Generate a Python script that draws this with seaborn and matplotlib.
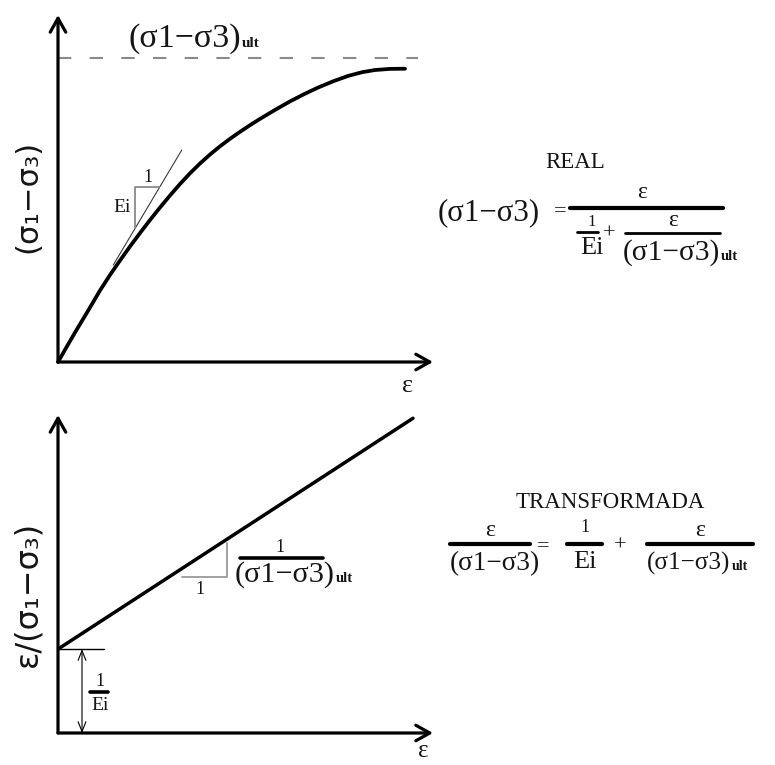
import matplotlib
matplotlib.use("Agg")
import matplotlib.pyplot as plt
from matplotlib.lines import Line2D
import seaborn as sns
import pandas as pd

W, H = 775, 765

# Real (hyperbolic) stress-strain curve: axial strain in %, deviator stress in kPa
eps_real = [0, 0.32, 0.68, 1.16, 1.68, 2.08, 2.48, 2.88, 3.28, 3.68, 4.08,
            4.48, 4.88, 5.28, 5.68, 6.08, 6.48, 6.88, 7.28, 7.68, 8.08,
            8.68, 9.28, 9.84, 10.40, 11.00, 11.60, 12.16, 12.68, 13.28, 13.88]
dev_stress = [0, 18.4, 38.8, 65.1, 94.1, 114.5, 133.6, 152.0, 169.7, 186.8, 203.3,
              219.1, 234.2, 248.3, 261.2, 273.0, 283.8, 293.7, 302.9, 311.6, 319.9,
              331.7, 342.9, 352.4, 361.1, 369.3, 376.4, 381.3, 384.2, 385.7, 385.9]
sigma_ult = 400
ult_line_eps = [0, 14.4]

# Initial tangent modulus line and its slope triangle
tangent_eps = [2.21, 4.95]
tangent_q = [127.6, 278.9]
tri_top_eps = [3.08, 3.08, 4.05]
tri_top_q = [176, 230, 230]

# Transformed (linearised) plot: eps/(s1-s3) in 1e-3 %/kPa
eps_lin = [0, 14.2]
ratio_lin = [12.9, 48.4]
inv_Ei = 12.9
tick_eps = [0, 1.84]
arrow_eps = 0.96
tri_bot_eps = [4.96, 6.76, 6.76]
tri_bot_ratio = [24.0, 24.0, 29.2]

TOP_LIM = (15, 456.6)
BOT_LIM = (15, 48.9)

sns.set_theme(style="white")
plt.rcParams["font.family"] = ["Liberation Serif", "DejaVu Serif"]
SERIF = ["Liberation Serif", "DejaVu Serif"]
SANS = ["DejaVu Sans"]
INK = "#151515"
DEV = "(σ1−σ3)"

fig = plt.figure(figsize=(W / 100, H / 100), dpi=100)
fig.patch.set_facecolor("white")
renderer = fig.canvas.get_renderer()


def fx(x):
    return x / W


def fy(y):
    return 1 - y / H


def txt(x, y, s, size, ha="center", va="center", family=SERIF, **kw):
    return fig.text(fx(x), fy(y), s, fontsize=size, ha=ha, va=va,
                    family=family, color=INK, **kw)


def size_for(s, span, family=SERIF, rotation=0, **kw):
    """Font size at which text s runs over the given length in pixels."""
    probe = txt(0, 0, s, 20, family=family, rotation=rotation, **kw)
    bb = probe.get_window_extent(renderer)
    probe.remove()
    run = bb.height if rotation else bb.width
    return 20 * span / run


def fitted(x0, x1, base, s):
    return txt(x0, base, s, size_for(s, x1 - x0), ha="left", va="baseline")


def with_ult(x0, x1, base, ult_size=11):
    t = fitted(x0, x1, base, DEV)
    bb = t.get_window_extent(renderer)
    txt(bb.x1 + 1, base, "ult", ult_size, ha="left", va="baseline",
        weight="bold")


def bar(x0, x1, y, lw=2.2):
    fig.add_artist(Line2D([fx(x0), fx(x1)], [fy(y), fy(y)], lw=lw,
                          color="black", transform=fig.transFigure))


def make_axes(top_px, bottom_px, lims):
    ax = fig.add_axes([fx(58), fy(bottom_px), fx(433) - fx(58),
                       fy(top_px) - fy(bottom_px)])
    ax.set_xlim(0, lims[0])
    ax.set_ylim(0, lims[1])
    ax.axis("off")
    head = dict(arrowstyle="->,head_length=0.5,head_width=0.28",
                lw=2.3, color="black", shrinkA=0, shrinkB=0,
                mutation_scale=20)
    ax.annotate("", xy=(lims[0], 0), xytext=(0, 0), arrowprops=head,
                annotation_clip=False)
    ax.annotate("", xy=(0, lims[1]), xytext=(0, 0), arrowprops=head,
                annotation_clip=False)
    return ax


# ---------------- real curve ----------------
ax1 = make_axes(15, 362, TOP_LIM)
df_real = pd.DataFrame({"eps": eps_real, "q": dev_stress})
sns.lineplot(data=df_real, x="eps", y="q", ax=ax1, color="black", lw=2.7,
             sort=False, clip_on=False, solid_joinstyle="round")
ax1.plot(ult_line_eps, [sigma_ult, sigma_ult], color="#8a8a8a", lw=1.5,
         dashes=(6.4, 8.8), clip_on=False)
ax1.plot(tangent_eps, tangent_q, color="#3a3a3a", lw=0.8)
ax1.plot(tri_top_eps, tri_top_q, color="#8a8a8a", lw=1.3)

# ---------------- transformed line ----------------
ax2 = make_axes(415, 733, BOT_LIM)
df_lin = pd.DataFrame({"eps": eps_lin, "ratio": ratio_lin})
sns.lineplot(data=df_lin, x="eps", y="ratio", ax=ax2, color="black", lw=2.5)
ax2.plot(tick_eps, [inv_Ei, inv_Ei], color="black", lw=1.0)
ax2.annotate("", xy=(arrow_eps, inv_Ei), xytext=(arrow_eps, 0),
             arrowprops=dict(arrowstyle="<->,head_length=0.5,head_width=0.2",
                             lw=0.8, color="black", shrinkA=0, shrinkB=0,
                             mutation_scale=14))
ax2.plot(tri_bot_eps, tri_bot_ratio, color="#9a9a9a", lw=1.3)

# ---------------- axis labels ----------------
ylab_top = "(σ₁−σ₃)"
ylab_bot = "ε/(σ₁−σ₃)"
ylab_size = size_for(ylab_top, 113, family=SANS, rotation=90)
txt(28, 196, ylab_top, ylab_size, family=SANS, rotation=90)
txt(28, 594, ylab_bot, ylab_size * 1.04, family=SANS, rotation=90)
txt(408, 386, "ε", 19)
txt(423, 751, "ε", 18)

# ultimate strength label
with_ult(128, 240, 47)

# slope triangle labels (top)
txt(148, 177, "1", 13)
txt(122, 207, "Ei", 14)

# slope / intercept labels (bottom)
txt(100, 682, "1", 13)
bar(90, 108, 692, lw=2.6)
txt(100, 706, "Ei", 14)
txt(200, 590, "1", 13)
txt(280, 547, "1", 13)
bar(240, 323, 558, lw=2.6)
with_ult(235, 335, 582, ult_size=10.5)

# ---------------- REAL equation ----------------
txt(575, 163, "REAL", 16.5)
fitted(438, 540, 220, DEV)
txt(560, 212, "=", 16)
bar(570, 723, 208, lw=3.0)
txt(642, 193, "ε", 17)
txt(592, 222, "1", 12)
bar(577, 598, 232, lw=2.0)
txt(592, 248, "Ei", 19)
txt(609, 234, "+", 16)
txt(673, 221, "ε", 17)
bar(625, 720, 233, lw=2.0)
with_ult(623, 720, 260, ult_size=10.5)

# ---------------- TRANSFORMADA equation ----------------
txt(610, 503, "TRANSFORMADA", 16.5)
txt(490, 530, "ε", 17)
bar(450, 530, 544, lw=3.0)
fitted(450, 540, 570, DEV)
txt(543, 547, "=", 16)
txt(585, 528, "1", 13)
bar(567, 602, 544, lw=3.0)
txt(585, 562, "Ei", 19)
txt(620, 546, "+", 16)
txt(700, 530, "ε", 17)
bar(647, 753, 544, lw=3.0)
with_ult(647, 730, 570, ult_size=10)

fig.savefig("out.png", dpi=100, facecolor="white")
